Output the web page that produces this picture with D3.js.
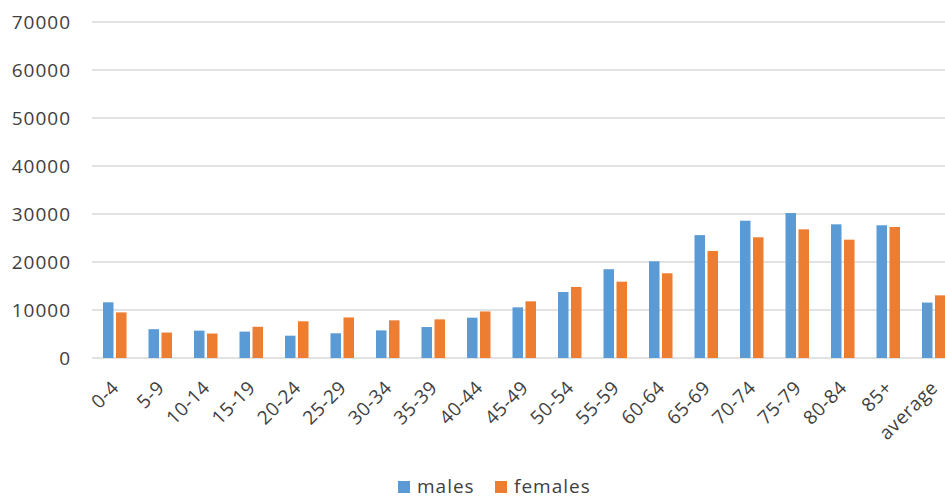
<!DOCTYPE html>
<html><head><meta charset="utf-8">
<script src="https://cdn.jsdelivr.net/npm/d3@7"></script>
<style>
html,body{margin:0;padding:0;background:#fff;overflow:hidden}
text{font-family:"Open Sans",sans-serif;fill:#404040}
</style></head>
<body><svg id="c" width="945" height="499"></svg>
<script>
const categories = ["0-4","5-9","10-14","15-19","20-24","25-29","30-34","35-39","40-44","45-49","50-54","55-59","60-64","65-69","70-74","75-79","80-84","85+","average"];
const males   = [11600,6000,5700,5500,4650,5150,5750,6450,8400,10550,13750,18500,20150,25600,28600,30200,27850,27650,11550];
const females = [9500,5300,5100,6500,7650,8450,7850,8050,9700,11800,14800,15900,17650,22300,25150,26800,24650,27300,13050];
const yTicks  = [0,10000,20000,30000,40000,50000,60000,70000];
const seriesNames = ["males","females"];
const colors = ["#5b9bd5","#ed7d31"];

const svg = d3.select("#c");
const x = d3.scaleBand().domain(categories).range([92.25, 956.75]);
const y = d3.scaleLinear().domain([0,70000]).range([358, 22]);

// gridlines
svg.append("g").selectAll("line").data(yTicks).join("line")
  .attr("x1", 92).attr("x2", 945)
  .attr("y1", d => y(d)).attr("y2", d => y(d))
  .attr("stroke", "#d9d9d9").attr("stroke-width", 1.5);

// y axis labels
const yAxis = d3.axisLeft(y).tickValues(yTicks).tickSize(0).tickPadding(0).tickFormat(d3.format("d"));
const yg = svg.append("g").attr("transform","translate(71,0)").call(yAxis);
yg.select(".domain").remove();
yg.selectAll("text").attr("font-size", 19).attr("letter-spacing", "1px")
  .attr("fill","#3a3a3a").attr("font-family","Open Sans").attr("dy","0.36em");

// bars
const bw = 10.5;
const data = categories.map((c,i) => ({c, vals:[males[i], females[i]]}));
const g = svg.append("g");
[0,1].forEach(s => {
  g.selectAll(".b"+s).data(data).join("rect")
    .attr("x", d => x(d.c) + x.bandwidth()/2 + (s===0 ? -12 : 1))
    .attr("width", bw)
    .attr("y", d => y(d.vals[s]))
    .attr("height", d => y(0) - y(d.vals[s]))
    .attr("fill", colors[s]);
});

// x axis labels
const xAxis = d3.axisBottom(x).tickSize(0).tickPadding(0);
const xg = svg.append("g").call(xAxis);
xg.select(".domain").remove();
xg.selectAll(".tick").attr("transform", d => `translate(${x(d)+x.bandwidth()/2+5},389)`);
xg.selectAll("text").attr("font-size", 19).attr("letter-spacing","0.5px")
  .attr("fill","#3a3a3a").attr("font-family","Open Sans")
  .attr("text-anchor","end").attr("dy",0).attr("y",0).attr("x",0)
  .attr("transform","rotate(-45)");

// legend
const leg = svg.append("g");
const legX = [398, 495];
seriesNames.forEach((n,i) => {
  leg.append("rect").attr("x", legX[i]).attr("y", 481).attr("width", 12).attr("height", 12).attr("fill", colors[i]);
  leg.append("text").attr("x", legX[i] + 19).attr("y", 493).attr("font-size", 19)
    .attr("fill","#3a3a3a").attr("letter-spacing","1px").text(n);
});
</script></body></html>
